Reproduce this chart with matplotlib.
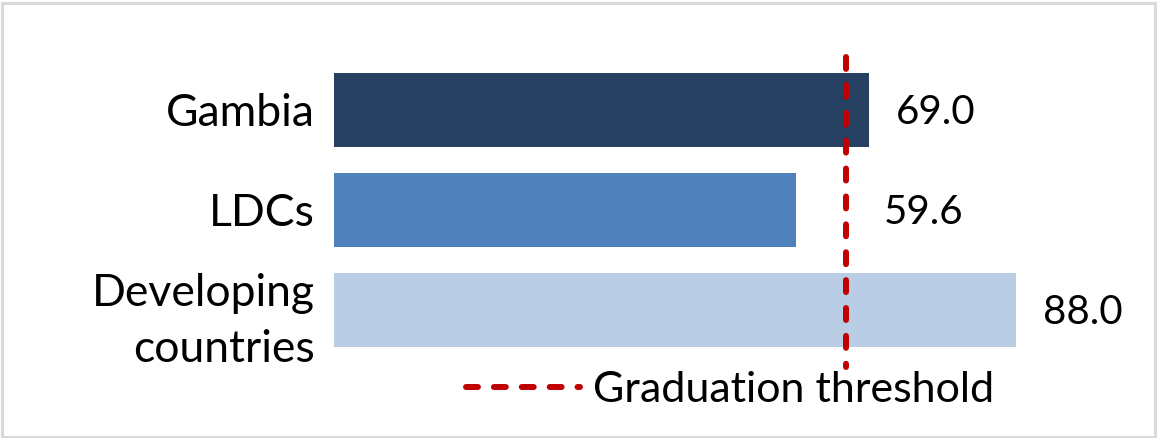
import matplotlib
matplotlib.use("Agg")
import matplotlib.pyplot as plt
from matplotlib.patches import Rectangle
from matplotlib.lines import Line2D

categories = ["Gambia", "LDCs", "Developing\ncountries"]
values = [69.0, 59.6, 88.0]
value_labels = ["69.0", "59.6", "88.0"]
threshold = 66.0
legend_label = "Graduation threshold"
colors = ["#264061", "#4F81BD", "#B9CDE5"]

plt.rcParams['font.family'] = ['Lato', 'DejaVu Sans']

W, H = 1158, 438
fig = plt.figure(figsize=(W / 100, H / 100), dpi=100)
x0 = 334
xmax = 100
ax_w = xmax * 7.75
top_px, bot_px = 60, 360
ax = fig.add_axes([x0 / W, 1 - bot_px / H, ax_w / W, (bot_px - top_px) / H])

ypos = list(range(len(categories)))
ax.barh(ypos, values, height=0.74, color=colors, zorder=2)
ax.set_xlim(0, xmax)
ax.set_ylim(2.5, -0.5)
ax.set_yticks(ypos)
ax.set_yticklabels(categories, fontsize=32, linespacing=1.45)
ax.tick_params(axis='y', length=0, pad=14)
ax.tick_params(axis='x', bottom=False, labelbottom=False)
for s in ax.spines.values():
    s.set_visible(False)

for i, (v, lab) in enumerate(zip(values, value_labels)):
    xa = max(v, threshold + 1.4)
    ax.annotate(lab, xy=(xa, i), xytext=(27, -2), textcoords='offset pixels',
                ha='left', va='center', fontsize=29, color='black')

dash = dict(color='#C00000', lw=4.3, linestyle=(0, (2.0, 2.67)),
            dash_capstyle='round', solid_capstyle='round')
ax.plot([threshold, threshold], [-0.53, 2.57], clip_on=False, zorder=3, **dash)

handle = Line2D([], [], **dash)
fig.legend([handle], [legend_label], loc='center left',
           bbox_to_anchor=(466 / W, 1 - 390 / H), frameon=False,
           fontsize=31, handlelength=2.65, handletextpad=0.3,
           borderaxespad=0, borderpad=0)

fig.patches.append(Rectangle((1.5 / W, 1.5 / H), 1 - 4.5 / W, 1 - 4.5 / H,
                             transform=fig.transFigure, fill=False,
                             edgecolor='#D9D9D9', lw=2.2))

fig.savefig("out.png", dpi=100, facecolor='white')
